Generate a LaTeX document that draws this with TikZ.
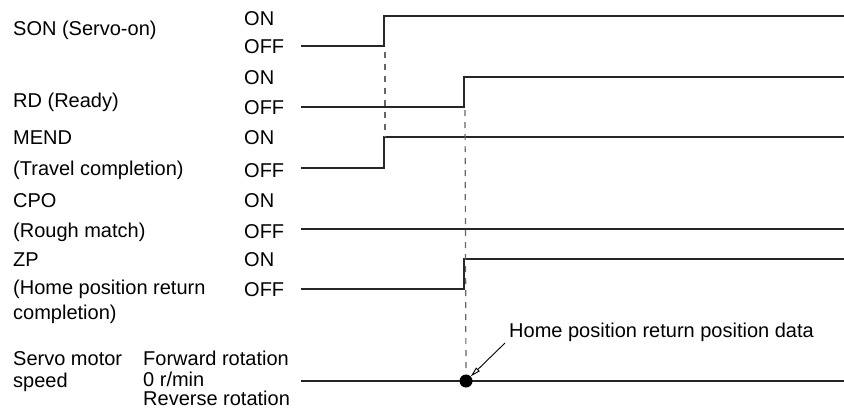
\documentclass[tikz,border=0pt]{standalone}
\usepackage{fontspec}
\setmainfont{Liberation Sans}
\usetikzlibrary{arrows.meta}
\begin{document}
\begin{tikzpicture}[x=1pt,y=-1pt,
  lbl/.style={anchor=base west,inner sep=0pt,font=\fontsize{20}{24}\selectfont},
  wave/.style={line width=1.3pt,black!85},
  guide/.style={black!60,line width=1.2pt,dash pattern=on 6pt off 6pt},
  dotnode/.style={circle,fill=black,inner sep=0pt,minimum size=13pt},
]
\useasboundingbox (0,0) rectangle (844,410);
% left labels
\node[lbl] (son) at (13,35) {SON (Servo-on)};
\node[lbl] (rd) at (13,107) {RD (Ready)};
\node[lbl] (mend) at (13,144) {MEND};
\node[lbl] (mend2) at (13,175) {(Travel completion)};
\node[lbl] (cpo) at (13,207) {CPO};
\node[lbl] (cpo2) at (13,237) {(Rough match)};
\node[lbl] (zp) at (13,266) {ZP};
\node[lbl] (zp2) at (13,294) {(Home position return};
\node[lbl] (zp3) at (13,319) {completion)};
\node[lbl] (sm) at (13,365) {Servo motor};
\node[lbl] (sm2) at (13,387) {speed};
% state labels
\node[lbl] (sonon) at (244,25) {ON};
\node[lbl] (sonoff) at (244,53) {OFF};
\node[lbl] (rdon) at (244,84) {ON};
\node[lbl] (rdoff) at (244,114) {OFF};
\node[lbl] (mendon) at (244,144) {ON};
\node[lbl] (mendoff) at (244,177) {OFF};
\node[lbl] (cpoon) at (244,207) {ON};
\node[lbl] (cpooff) at (244,238) {OFF};
\node[lbl] (zpon) at (244,266) {ON};
\node[lbl] (zpoff) at (244,296) {OFF};
\node[lbl] (fwd) at (143,365) {Forward rotation};
\node[lbl] (zero) at (143,386) {0 r/min};
\node[lbl] (rev) at (143,405) {Reverse rotation};
% waveforms
\draw[wave] (301,46) -- (384,46) -- (384,16) -- (844,16);
\draw[wave] (301,107) -- (464,107) -- (464,77) -- (844,77);
\draw[wave] (301,168) -- (384,168) -- (384,137) -- (844,137);
\draw[wave] (301,229) -- (844,229);
\draw[wave] (301,289) -- (464,289) -- (464,259) -- (844,259);
\draw[wave] (301,381) -- (844,381);
% marker and guides
\node[dotnode] (dot) at (466,381) {};
\draw[guide] (385,52) -- (385,137);
\draw[guide] (465,110) -- (dot.north);
% annotation
\node[lbl] (hpdata) at (509,337) {Home position return position data};
\coordinate (arrst) at (505,343);
\draw[line width=0.9pt,-{Triangle[open,length=10pt,width=5pt]}] (arrst) -- (dot);
\end{tikzpicture}
\end{document}
